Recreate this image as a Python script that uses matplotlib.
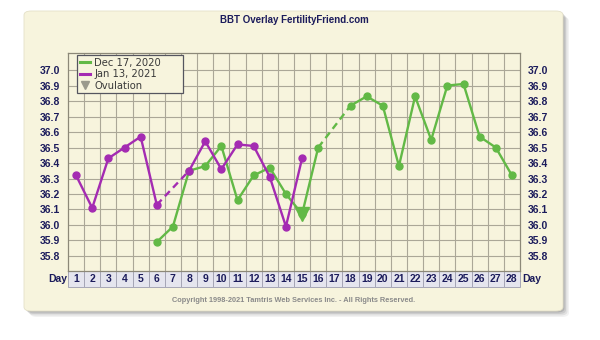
import numpy as np
import matplotlib.pyplot as plt
from matplotlib.patches import FancyBboxPatch, Rectangle
from matplotlib.transforms import blended_transform_factory
from matplotlib.lines import Line2D

# Chart data; None = no reading that day
days = list(range(1, 29))
dec17_2020 = [None, None, None, None, None, 35.89, 35.99, 36.35, 36.38, 36.51,
              36.16, 36.32, 36.37, 36.20, 36.07, 36.50, None, 36.77, 36.83, 36.77,
              36.38, 36.83, 36.55, 36.90, 36.91, 36.57, 36.50, 36.32]
jan13_2021 = [36.32, 36.11, 36.43, 36.50, 36.57, 36.13, None, 36.35, 36.54, 36.36,
              36.52, 36.51, 36.31, 35.99, 36.43, None, None, None, None, None,
              None, None, None, None, None, None, None, None]
ovulation_day = 15
series_names = ['Dec 17, 2020', 'Jan 13, 2021']
y_ticks = [35.8, 35.9, 36.0, 36.1, 36.2, 36.3, 36.4, 36.5, 36.6, 36.7, 36.8, 36.9, 37.0]

GREEN = '#62b946'
MAGENTA = '#a42bb2'
CARD = '#f7f4dd'
NAVY = '#1c1c5c'
GRID = '#aba797'
LABEL_FONT = 'Liberation Sans'


def plot_series(ax, values, color, zorder):
    x = np.array(days, dtype=float)
    y = np.array([np.nan if v is None else v for v in values])
    # solid line between consecutive readings
    ax.plot(x, y, color=color, lw=1.7, marker='o', ms=5, zorder=zorder)
    # dashed bridge across single missing days
    idx = np.where(~np.isnan(y))[0]
    for a, b in zip(idx[:-1], idx[1:]):
        if b - a > 1:
            ax.plot([x[a], x[b]], [y[a], y[b]], color=color, lw=1.7,
                    ls=(0, (3, 2)), zorder=zorder)


fig = plt.figure(figsize=(6, 3.4), dpi=100)
fig.patch.set_facecolor('white')

# card with soft shadow
for i, a in enumerate([0.05, 0.07, 0.09, 0.12]):
    off = 6 - i * 1.5
    fig.patches.append(FancyBboxPatch(
        ((24 + off) / 600, 1 - (311 + off) / 340), 539 / 600, 300 / 340,
        boxstyle='round,pad=0,rounding_size=0.012', transform=fig.transFigure,
        facecolor='black', edgecolor='none', alpha=a, zorder=-3))
fig.patches.append(FancyBboxPatch(
    (24 / 600, 1 - 311 / 340), 539 / 600, 300 / 340,
    boxstyle='round,pad=0,rounding_size=0.012', transform=fig.transFigure,
    facecolor=CARD, edgecolor='#e4e0c8', lw=0.6, zorder=-2))

ax = fig.add_axes([68 / 600, 1 - 271 / 340, 452 / 600, 218 / 340])
ax.set_facecolor(CARD)
ax.set_xlim(0.5, 28.5)
ax.set_ylim(35.703, 37.11)

for d in range(1, 28):
    ax.axvline(d + 0.5, color=GRID, lw=0.8, zorder=1)
for t in y_ticks:
    ax.axhline(t, color=GRID, lw=0.8, zorder=1)
for s in ax.spines.values():
    s.set_color('#8c8878')
    s.set_linewidth(0.9)

ax.set_xticks([])
ax.set_yticks(y_ticks)
ax.set_yticklabels([f'{t:.1f}' for t in y_ticks])
ax.tick_params(axis='y', left=False, right=False, labelleft=True, labelright=True,
               pad=2, labelsize=7.5, labelcolor=NAVY)
for lbl in ax.get_yticklabels():
    lbl.set_fontweight('bold')
    lbl.set_family(LABEL_FONT)

plot_series(ax, dec17_2020, GREEN, 3)
plot_series(ax, jan13_2021, MAGENTA, 4)
ov_val = dec17_2020[days.index(ovulation_day)]
ax.plot([ovulation_day], [ov_val], marker='v', ms=10, color=GREEN, zorder=5)

# day row under the grid
tr = blended_transform_factory(ax.transData, ax.transAxes)
row_h = 16 / 218
for d in days:
    ax.add_patch(Rectangle((d - 0.5, -row_h), 1, row_h, transform=tr,
                           facecolor='#e5e5ee', edgecolor='#a6a6b6', lw=0.7,
                           clip_on=False, zorder=2))
    ax.text(d, -row_h / 2, str(d), transform=tr, ha='center', va='center',
            fontsize=7.5, fontweight='bold', color=NAVY, family=LABEL_FONT)
ax.text(-0.002, -row_h / 2, 'Day', transform=ax.transAxes, ha='right', va='center',
        fontsize=7.5, fontweight='bold', color=NAVY, family=LABEL_FONT)
ax.text(1.004, -row_h / 2, 'Day', transform=ax.transAxes, ha='left', va='center',
        fontsize=7.5, fontweight='bold', color=NAVY, family=LABEL_FONT)

handles = [Line2D([], [], color=GREEN, lw=2.2),
           Line2D([], [], color=MAGENTA, lw=2.2),
           Line2D([], [], color='#9a9a8c', marker='v', ls='none', ms=6)]
leg = ax.legend(handles, series_names + ['Ovulation'], loc='upper left',
                bbox_to_anchor=(0.02, 0.99, 0.2345, 0.0), mode='expand',
                borderaxespad=0, fontsize=7.2, handlelength=1.0,
                handletextpad=0.45, labelspacing=0.15, borderpad=0.25,
                fancybox=False, framealpha=1, facecolor=CARD, edgecolor='#55555f')
leg.get_frame().set_linewidth(0.9)
for t in leg.get_texts():
    t.set_color('#3a3a3a')
leg.set_zorder(6)

fig.text(294 / 600, 1 - 20 / 340, 'BBT Overlay FertilityFriend.com', ha='center',
         va='center', fontsize=7, fontweight='bold', color=NAVY, family=LABEL_FONT)
fig.text(293.5 / 600, 1 - 300.5 / 340,
         'Copyright 1998-2021 Tamtris Web Services Inc. - All Rights Reserved.',
         ha='center', va='center', fontsize=5.3, fontweight='bold', color='#8a8a8a',
         family=LABEL_FONT)

fig.savefig('out.png', dpi=100)
